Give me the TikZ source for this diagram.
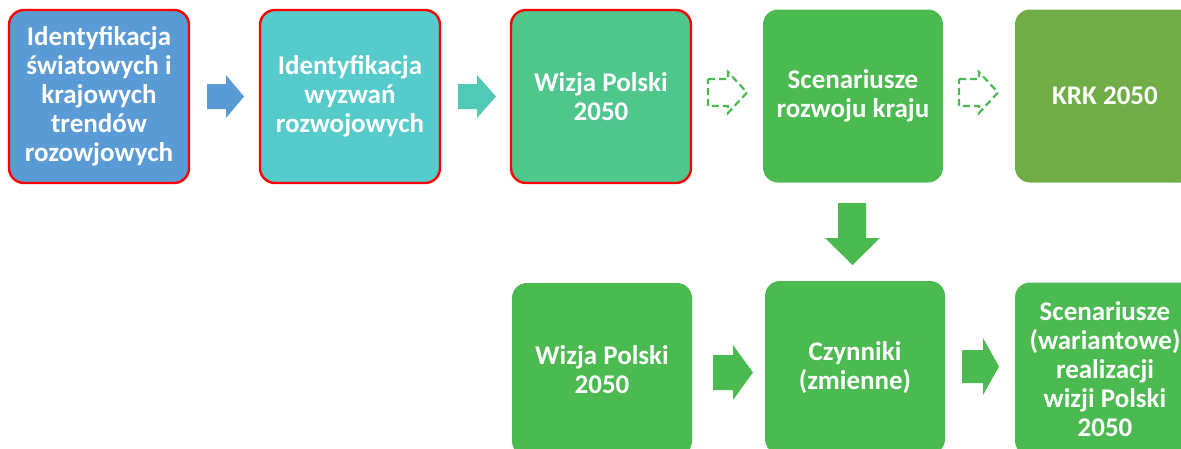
\documentclass[tikz,border=0pt]{standalone}
\usepackage{fontspec}
\setmainfont{Carlito}
\usetikzlibrary{positioning}
\definecolor{trendBlue}{HTML}{5B9BD5}
\definecolor{challengeTeal}{HTML}{56CBCB}
\definecolor{visionGreen}{HTML}{4EC68C}
\definecolor{stepGreen}{HTML}{4BBA50}
\definecolor{krkGreen}{HTML}{70AD47}
\definecolor{arrowTeal}{HTML}{50C9B6}
\tikzset{
  box/.style={rounded corners=15pt, minimum width=180pt, minimum height=173pt,
    inner sep=0pt, text width=176pt, align=flush center, text=white,
    font=\bfseries\fontsize{27}{29}\selectfont},
  marked/.style={draw=red, line width=2.4pt},
  dashedarrow/.style={draw=stepGreen, line width=2.2pt, dash pattern=on 7pt off 4pt},
}
% block arrow: tail x, head x, tip x, centre y, half shaft, half head, style
\newcommand{\blockarrow}[7]{%
  \path[#7] (#1,#4-#5) -- (#2,#4-#5) -- (#2,#4-#6) -- (#3,#4)
    -- (#2,#4+#6) -- (#2,#4+#5) -- (#1,#4+#5) -- cycle;}
\begin{document}
\begin{tikzpicture}[x=1pt,y=-1pt]
  \useasboundingbox (0,0) rectangle (1181,448);
  \clip (0,0) rectangle (1181,448);
  %Nodes
  \node[box, marked, fill=trendBlue]     at (99,96.5)   (trends)   {Identyfikacja\\światowych i\\krajowych\\trendów\\rozowjowych};
  \node[box, marked, fill=challengeTeal] at (350,96.5)  (challenge){Identyfikacja\\wyzwań\\rozwojowych};
  \node[box, marked, fill=visionGreen]   at (601,96.5)  (vision)   {Wizja Polski\\2050};
  \node[box, fill=stepGreen]             at (853,96)    (scen)     {Scenariusze\\rozwoju kraju};
  \node[box, fill=krkGreen]              at (1105,96)   (krk)      {KRK 2050};
  \node[box, fill=stepGreen]             at (602,369.5) (visionb)  {Wizja Polski\\2050};
  \node[box, fill=stepGreen]             at (855,367.5) (factors)  {Czynniki\\(zmienne)};
  \node[box, fill=stepGreen]             at (1105,369)  (variants) {Scenariusze\\(wariantowe)\\realizacji\\wizji Polski\\2050};

  %Arrows
  \blockarrow{207}{226}{244}{96.5}{12.5}{21.5}{fill=trendBlue}
  \blockarrow{458}{477}{496}{96.5}{12.5}{21.5}{fill=arrowTeal}
  \blockarrow{708}{728}{747}{92.5}{13.5}{20.5}{dashedarrow}
  \blockarrow{959}{979}{998}{92.5}{13.5}{20.5}{dashedarrow}
  \path[fill=stepGreen] (838,203) -- (866,203) -- (866,238) -- (880,238)
    -- (852.5,265) -- (825,238) -- (838,238) -- cycle;
  \blockarrow{713}{733}{753}{372.5}{17.5}{27.5}{fill=stepGreen}
  \blockarrow{962}{983}{999}{366.5}{16.5}{28.5}{fill=stepGreen}
\end{tikzpicture}
\end{document}
